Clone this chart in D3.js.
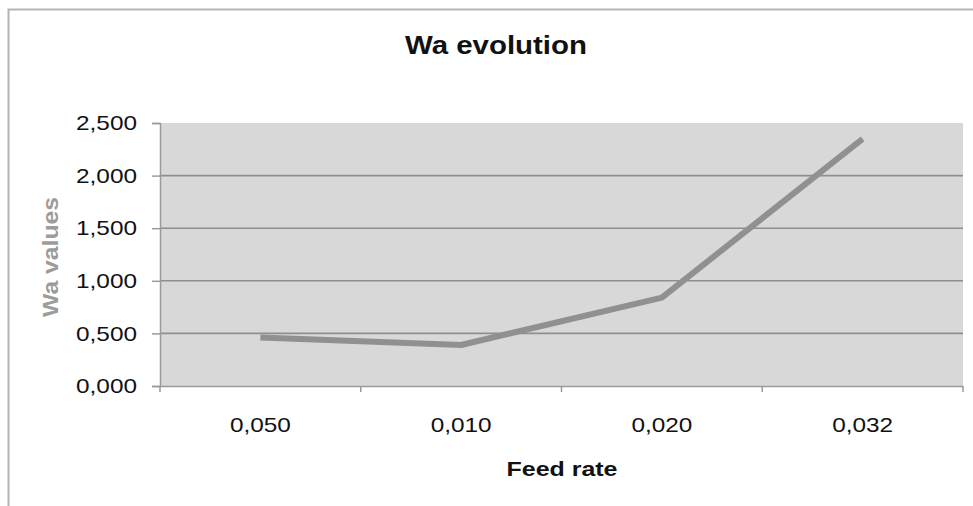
<!DOCTYPE html>
<html><head><meta charset="utf-8">
<script src="https://cdn.jsdelivr.net/npm/d3@7"></script>
<style>body{margin:0;background:#fff;} text{font-family:"Liberation Sans",Arial,sans-serif;}</style>
</head><body>
<svg id="c" width="973" height="506"></svg>
<script>
const categories = ["0,050", "0,010", "0,020", "0,032"];
const waValues = [0.46, 0.39, 0.84, 2.35];
const yTicks = [0, 0.5, 1.0, 1.5, 2.0, 2.5];
const title = "Wa evolution";
const xTitle = "Feed rate";
const yTitle = "Wa values";

const svg = d3.select("#c");
const m = {l:160, r:963, t:123, b:386};

// outer frame
svg.append("path").attr("d","M8.5,506 V9.5 H973").attr("fill","none").attr("stroke","#b4b4b4").attr("stroke-width",2);

const x = d3.scaleBand().domain(categories).range([m.l, m.r]);
const y = d3.scaleLinear().domain([0, 2.5]).range([m.b, m.t]);
const fmt = v => d3.format(".3f")(v).replace(".", ",");

svg.append("rect").attr("x",m.l).attr("y",m.t).attr("width",m.r-m.l).attr("height",m.b-m.t).attr("fill","#d8d8d8");

// gridlines
svg.append("g").selectAll("line").data(yTicks.filter(d=>d>0 && d<2.5)).join("line")
  .attr("x1",m.l).attr("x2",m.r).attr("y1",d=>y(d)).attr("y2",d=>y(d))
  .attr("stroke","#8e8e8e").attr("stroke-width",1.6);

// y axis
const ya = svg.append("g").attr("transform",`translate(${m.l},0)`)
  .call(d3.axisLeft(y).tickValues(yTicks).tickFormat(fmt).tickSize(8).tickPadding(15));
ya.select(".domain").attr("stroke","#9a9a9a").attr("stroke-width",1.5);
ya.selectAll(".tick line").attr("stroke","#9a9a9a").attr("stroke-width",1.5);
ya.selectAll("text").attr("font-size",21).attr("fill","#111").attr("font-family","Liberation Sans, Arial")
  .attr("textLength",61).attr("lengthAdjust","spacingAndGlyphs");

// x axis
const xa = svg.append("g").attr("transform",`translate(0,${m.b})`)
  .call(d3.axisBottom(x).tickSize(0).tickPadding(31));
xa.select(".domain").attr("stroke","#9a9a9a").attr("stroke-width",1.5);
xa.selectAll("text").attr("font-size",21).attr("fill","#111").attr("font-family","Liberation Sans, Arial")
  .attr("textLength",61).attr("lengthAdjust","spacingAndGlyphs");
// boundary ticks
const bounds = categories.map(c=>x(c)).concat([m.r]);
xa.append("g").selectAll("line").data(bounds).join("line")
  .attr("x1",d=>d).attr("x2",d=>d).attr("y1",0).attr("y2",6).attr("stroke","#9a9a9a").attr("stroke-width",1.5);

// line
const line = d3.line().x((d,i)=>x(categories[i])+x.bandwidth()/2).y(d=>y(d));
svg.append("path").datum(waValues).attr("d",line).attr("fill","none")
  .attr("stroke","#909090").attr("stroke-width",6).attr("stroke-linejoin","round");

// titles
svg.append("text").attr("x",496).attr("y",54).attr("text-anchor","middle")
  .attr("font-size",26).attr("font-weight","bold").attr("fill","#111")
  .attr("textLength",182).attr("lengthAdjust","spacingAndGlyphs").text(title);
svg.append("text").attr("x",562).attr("y",476).attr("text-anchor","middle")
  .attr("font-size",21).attr("font-weight","bold").attr("fill","#111")
  .attr("textLength",111).attr("lengthAdjust","spacingAndGlyphs").text(xTitle);
svg.append("text").attr("transform","translate(58,257) rotate(-90)").attr("text-anchor","middle")
  .attr("font-size",22).attr("font-weight","bold").attr("fill","#9c9c9c")
  .attr("textLength",120).attr("lengthAdjust","spacingAndGlyphs").text(yTitle);
</script>
</body></html>
